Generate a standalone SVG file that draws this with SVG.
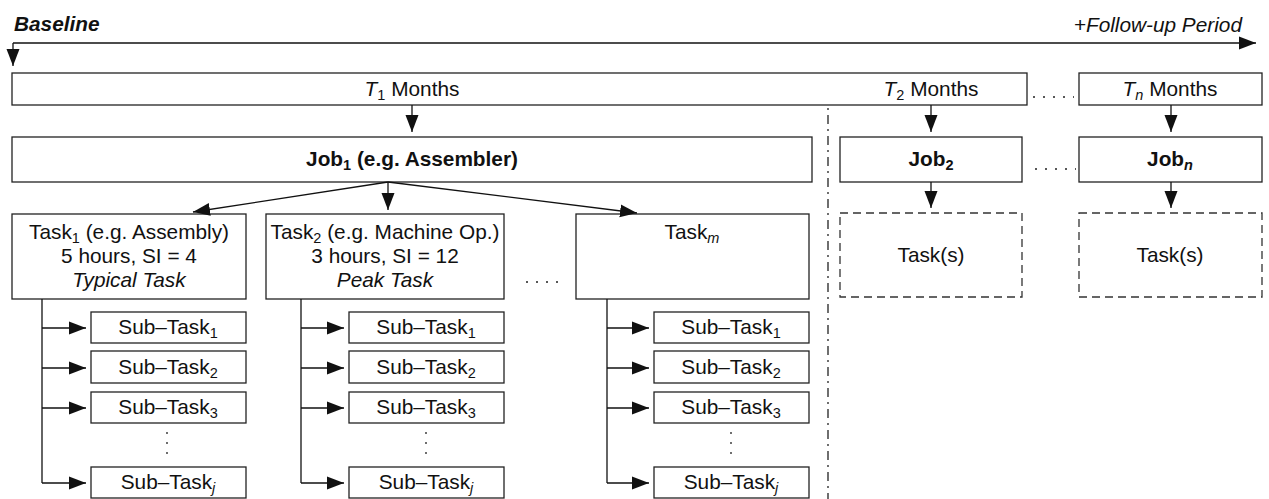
<svg xmlns="http://www.w3.org/2000/svg" width="1269" height="499" viewBox="0 0 1269 499">
<style>
text{font-family:"Liberation Sans",Arial,Helvetica,sans-serif;font-size:20.8px;fill:#111}
.c{text-anchor:middle}
.b{font-weight:bold}
.i{font-style:italic}
.s{font-size:14.5px}
.box{fill:#fff;stroke:#222;stroke-width:1.3}
.dbox{fill:#fff;stroke:#333;stroke-width:1.3;stroke-dasharray:8,5}
.ln{fill:none;stroke:#111;stroke-width:1.3}
.dots{fill:none;stroke:#222;stroke-width:1.3;stroke-dasharray:2,8}
.dd{fill:none;stroke:#222;stroke-width:1.3;stroke-dasharray:9,5,2,5}
</style>
<defs>
<marker id="ah" markerUnits="userSpaceOnUse" markerWidth="18" markerHeight="14" refX="17" refY="7" orient="auto">
<path d="M0,0.5 L17,7 L0,13.5 Z" fill="#111"/>
</marker>
</defs>

<g id="timeline">
<text x="14" y="31" class="b i">Baseline</text>
<text x="1242" y="32" class="i" text-anchor="end">+Follow-up Period</text>
</g>

<g id="divider">
<line x1="828" y1="73" x2="828" y2="499" class="dd"/>
</g>

<g id="period-T1-T2">
<rect x="12" y="73" width="1015" height="32" class="box"/>
<text x="412" y="96" class="c"><tspan class="i">T</tspan><tspan dy="4" class="s">1</tspan><tspan dy="-4"> Months</tspan></text>
<text x="931" y="96" class="c"><tspan class="i">T</tspan><tspan dy="4" class="s">2</tspan><tspan dy="-4"> Months</tspan></text>
</g>
<g id="period-Tn">
<rect x="1079" y="73" width="183" height="32" class="box"/>
<text x="1170" y="96" class="c"><tspan class="i">T</tspan><tspan dy="4" class="s i">n</tspan><tspan dy="-4"> Months</tspan></text>
</g>

<g id="job1">
<rect x="12" y="137" width="800" height="45" class="box"/>
<text x="412" y="166" class="c b">Job<tspan dy="4" class="s">1</tspan><tspan dy="-4"> (e.g. Assembler)</tspan></text>
</g>
<g id="job2">
<rect x="840" y="137" width="182" height="45" class="box"/>
<text x="931" y="166" class="c b">Job<tspan dy="4" class="s">2</tspan></text>
</g>
<g id="jobn">
<rect x="1079" y="137" width="183" height="45" class="box"/>
<text x="1170" y="166" class="c b">Job<tspan dy="4" class="s i">n</tspan></text>
</g>

<g id="tasks2">
<rect x="840" y="213" width="182" height="84" class="dbox"/>
<text x="931" y="262" class="c">Task(s)</text>
</g>
<g id="tasksn">
<rect x="1079" y="213" width="183" height="84" class="dbox"/>
<text x="1170" y="262" class="c">Task(s)</text>
</g>

<g id="task1">
<rect x="12" y="214" width="234" height="85" class="box"/>
<text x="129" y="239" class="c">Task<tspan dy="4" class="s">1</tspan><tspan dy="-4"> (e.g. Assembly)</tspan></text>
<text x="129" y="263" class="c">5 hours, SI = 4</text>
<text x="129" y="287" class="c i">Typical Task</text>
</g>
<g id="task2">
<rect x="266" y="214" width="238" height="85" class="box"/>
<text x="385" y="239" class="c">Task<tspan dy="4" class="s">2</tspan><tspan dy="-4"> (e.g. Machine Op.)</tspan></text>
<text x="385" y="263" class="c">3 hours, SI = 12</text>
<text x="385" y="287" class="c i">Peak Task</text>
</g>
<g id="taskm">
<rect x="576" y="214" width="233" height="85" class="box"/>
<text x="692" y="239" class="c">Task<tspan dy="4" class="s i">m</tspan></text>
</g>

<g id="subtasks1">
<rect x="91" y="312" width="155" height="31" class="box"/>
<text x="168" y="334" class="c">Sub–Task<tspan dy="4" class="s">1</tspan></text>
<rect x="91" y="351" width="155" height="32" class="box"/>
<text x="168" y="374" class="c">Sub–Task<tspan dy="4" class="s">2</tspan></text>
<rect x="91" y="392" width="155" height="31" class="box"/>
<text x="168" y="414" class="c">Sub–Task<tspan dy="4" class="s">3</tspan></text>
<rect x="91" y="467" width="155" height="31" class="box"/>
<text x="168" y="489" class="c">Sub–Task<tspan dy="4" class="s i">j</tspan></text>
</g>
<g id="subtasks2">
<rect x="349" y="312" width="155" height="31" class="box"/>
<text x="426" y="334" class="c">Sub–Task<tspan dy="4" class="s">1</tspan></text>
<rect x="349" y="351" width="155" height="32" class="box"/>
<text x="426" y="374" class="c">Sub–Task<tspan dy="4" class="s">2</tspan></text>
<rect x="349" y="392" width="155" height="31" class="box"/>
<text x="426" y="414" class="c">Sub–Task<tspan dy="4" class="s">3</tspan></text>
<rect x="349" y="467" width="155" height="31" class="box"/>
<text x="426" y="489" class="c">Sub–Task<tspan dy="4" class="s i">j</tspan></text>
</g>
<g id="subtasks3">
<rect x="654" y="312" width="155" height="31" class="box"/>
<text x="731" y="334" class="c">Sub–Task<tspan dy="4" class="s">1</tspan></text>
<rect x="654" y="351" width="155" height="32" class="box"/>
<text x="731" y="374" class="c">Sub–Task<tspan dy="4" class="s">2</tspan></text>
<rect x="654" y="392" width="155" height="31" class="box"/>
<text x="731" y="414" class="c">Sub–Task<tspan dy="4" class="s">3</tspan></text>
<rect x="654" y="467" width="155" height="31" class="box"/>
<text x="731" y="489" class="c">Sub–Task<tspan dy="4" class="s i">j</tspan></text>
</g>

<g id="connectors">
<path d="M13,43 H1256" class="ln" stroke-width="2" marker-end="url(#ah)"/>
<path d="M13,43 V66" class="ln" stroke-width="2" marker-end="url(#ah)"/>
<path d="M412,105 V132" class="ln" marker-end="url(#ah)"/>
<path d="M931,105 V132" class="ln" marker-end="url(#ah)"/>
<path d="M1171,105 V132" class="ln" marker-end="url(#ah)"/>
<path d="M931,182 V208" class="ln" marker-end="url(#ah)"/>
<path d="M1171,182 V208" class="ln" marker-end="url(#ah)"/>
<path d="M388,182 L193,212" class="ln" marker-end="url(#ah)"/>
<path d="M388,182 V210" class="ln" marker-end="url(#ah)"/>
<path d="M388,182 L637,213" class="ln" marker-end="url(#ah)"/>
<path d="M42,299 V483" class="ln"/>
<path d="M42,328 H86" class="ln" marker-end="url(#ah)"/>
<path d="M42,368 H86" class="ln" marker-end="url(#ah)"/>
<path d="M42,408 H86" class="ln" marker-end="url(#ah)"/>
<path d="M42,483 H86" class="ln" marker-end="url(#ah)"/>
<path d="M301,299 V483" class="ln"/>
<path d="M301,328 H344" class="ln" marker-end="url(#ah)"/>
<path d="M301,368 H344" class="ln" marker-end="url(#ah)"/>
<path d="M301,408 H344" class="ln" marker-end="url(#ah)"/>
<path d="M301,483 H344" class="ln" marker-end="url(#ah)"/>
<path d="M607,299 V483" class="ln"/>
<path d="M607,328 H649" class="ln" marker-end="url(#ah)"/>
<path d="M607,368 H649" class="ln" marker-end="url(#ah)"/>
<path d="M607,408 H649" class="ln" marker-end="url(#ah)"/>
<path d="M607,483 H649" class="ln" marker-end="url(#ah)"/>
<path d="M1033,97 H1074" class="dots"/>
<path d="M1035,169 H1076" class="dots"/>
<path d="M526,282 H566" class="dots"/>
<path d="M167,432 V460" class="dots"/>
<path d="M426,432 V460" class="dots"/>
<path d="M731,432 V460" class="dots"/>
</g>
</svg>
